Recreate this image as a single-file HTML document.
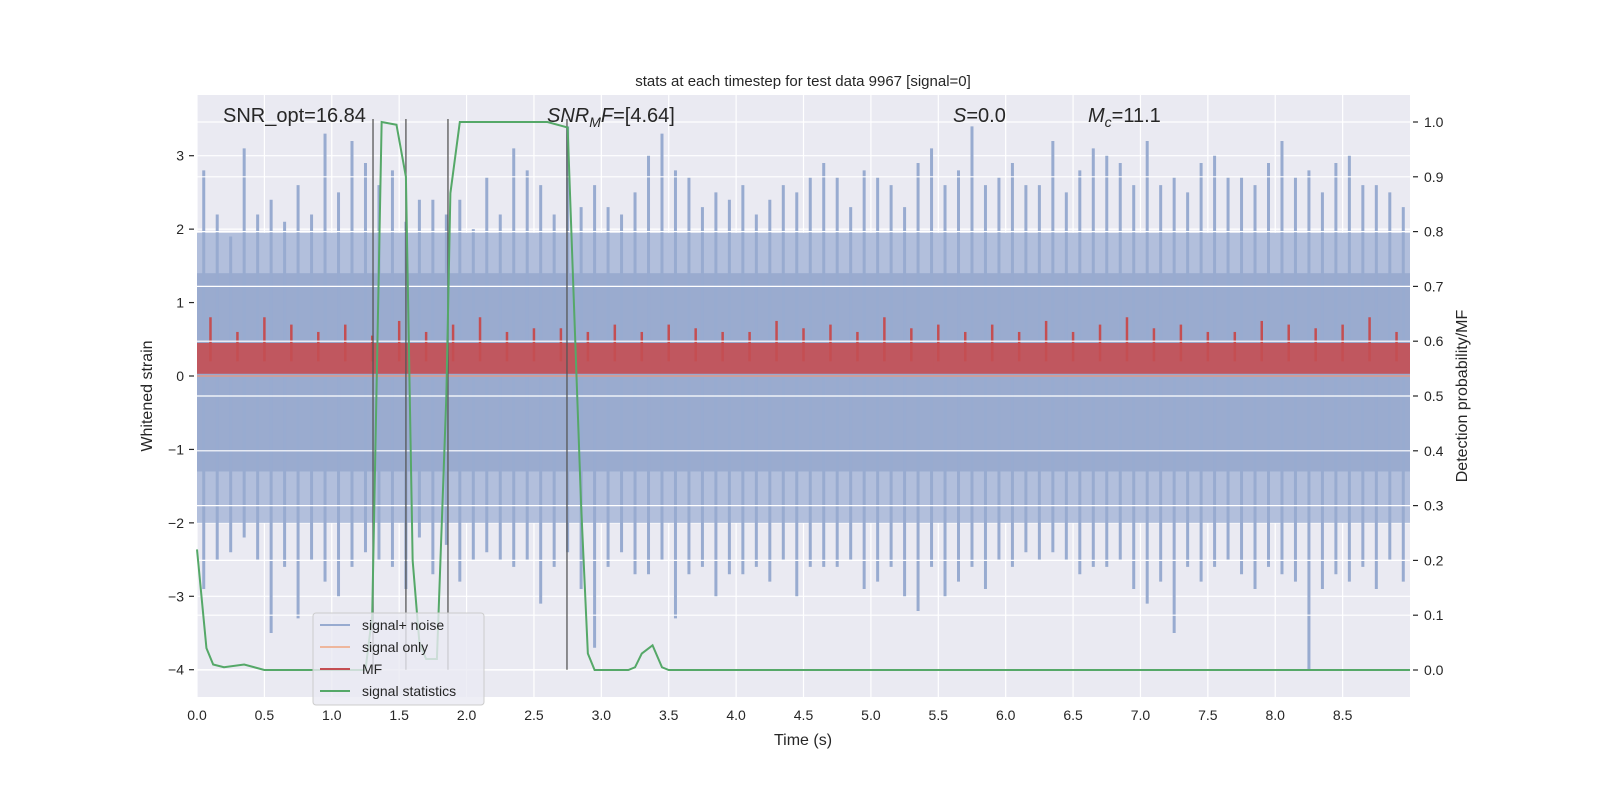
<!DOCTYPE html>
<html><head><meta charset="utf-8"><style>
body{margin:0;background:#fff;}
svg text{font-family:"Liberation Sans","DejaVu Sans",sans-serif;fill:#262626;}
</style></head><body>
<svg id="chart" width="1600" height="800" xmlns="http://www.w3.org/2000/svg">
<rect x="0" y="0" width="1600" height="800" fill="#fff"/>
<rect x="197" y="95" width="1213" height="602" fill="#eaeaf2"/>
<g id="grid"></g>
<g id="noise"></g>
<g id="mf"></g>
<g id="grid2"></g>
<g id="vlines"></g>
<g id="stat"></g>
<g id="axes"></g>
<text x="803" y="86" font-size="15" text-anchor="middle">stats at each timestep for test data 9967 [signal=0]</text>
<text x="223" y="122" font-size="20">SNR_opt=16.84</text>
<text x="547" y="122" font-size="20"><tspan font-style="italic">SNR</tspan><tspan font-style="italic" font-size="14" dy="5">M</tspan><tspan font-style="italic" dy="-5">F</tspan>=[4.64]</text>
<text x="953" y="122" font-size="20"><tspan font-style="italic">S</tspan>=0.0</text>
<text x="1088" y="122" font-size="20"><tspan font-style="italic">M</tspan><tspan font-style="italic" font-size="14" dy="5">c</tspan><tspan dy="-5">=11.1</tspan></text>
<text x="803" y="745" font-size="16" text-anchor="middle">Time (s)</text>
<text transform="translate(152,396) rotate(-90)" font-size="16" text-anchor="middle">Whitened strain</text>
<text transform="translate(1467,396) rotate(-90)" font-size="16" text-anchor="middle">Detection probability/MF</text>
<g>
<rect x="313" y="613" width="171" height="92" rx="3" fill="#eaeaf2" fill-opacity="0.8" stroke="#cccccc"/>
<line x1="320" y1="625" x2="350" y2="625" stroke="#98abd0" stroke-width="2"/>
<text x="362" y="630" font-size="14">signal+ noise</text>
<line x1="320" y1="647" x2="350" y2="647" stroke="#eeb69c" stroke-width="2"/>
<text x="362" y="652" font-size="14">signal only</text>
<line x1="320" y1="669" x2="350" y2="669" stroke="#c44e52" stroke-width="2"/>
<text x="362" y="674" font-size="14">MF</text>
<line x1="320" y1="691" x2="350" y2="691" stroke="#55a868" stroke-width="2"/>
<text x="362" y="696" font-size="14">signal statistics</text>
</g>
</svg>
<script>
const noiseHi=[2.8,2.2,1.9,3.1,2.2,2.4,2.1,2.6,2.2,3.3, 2.5,3.2,2.9,2.6,2.8,2.1,2.4,2.4,2.2,2.4, 2.0,2.7,2.2,3.1,2.8,2.6,2.2,3.4,2.3,2.6, 2.3,2.2,2.5,3.0,3.3,2.8,2.7,2.3,2.5,2.4, 2.6,2.2,2.4,2.6,2.5,2.7,2.9,2.7,2.3,2.8, 2.7,2.6,2.3,2.9,3.1,2.6,2.8,3.4,2.6,2.7, 2.9,2.6,2.6,3.2,2.5,2.8,3.1,3.0,2.9,2.6, 3.2,2.6,2.7,2.5,2.9,3.0,2.7,2.7,2.6,2.9, 3.2,2.7,2.8,2.5,2.9,3.0,2.6,2.6,2.5,2.3];
const noiseLo=[-2.9,-2.5,-2.4,-2.2,-2.5,-3.5,-2.6,-3.3,-2.5,-2.8, -3.0,-2.6,-2.4,-2.5,-2.6,-2.9,-2.2,-2.7,-2.3,-2.8, -2.5,-2.4,-2.5,-2.6,-2.5,-3.1,-2.6,-2.4,-2.9,-3.7, -2.6,-2.4,-2.7,-2.7,-2.5,-3.3,-2.7,-2.6,-3.0,-2.7, -2.7,-2.6,-2.8,-2.5,-3.0,-2.6,-2.6,-2.6,-2.5,-2.9, -2.8,-2.6,-3.0,-3.2,-2.6,-3.0,-2.8,-2.6,-2.9,-2.5, -2.6,-2.4,-2.5,-2.4,-2.5,-2.7,-2.6,-2.6,-2.5,-2.9, -3.1,-2.8,-3.5,-2.6,-2.8,-2.6,-2.5,-2.7,-2.9,-2.6, -2.7,-2.8,-4.0,-2.9,-2.7,-2.8,-2.6,-2.9,-2.5,-2.8];
const mfPeak=[0.8,0.6,0.8,0.7,0.6,0.7,0.55,0.75,0.6,0.7,0.8,0.6,0.65,0.65,0.6,0.7,0.6,0.7,0.65,0.6,0.6,0.75,0.65,0.7,0.6,0.8,0.65,0.7,0.6,0.7,0.6,0.75,0.6,0.7,0.8,0.65,0.7,0.6,0.6,0.75,0.7,0.65,0.7,0.8,0.6];
const statT=[0,0.07,0.12,0.2,0.35,0.5,1.25,1.3,1.37,1.48,1.55,1.6,1.65,1.7,1.78,1.85,1.88,1.95,2.6,2.75,2.85,2.9,2.95,3.2,3.25,3.3,3.38,3.45,3.5,9];
const statP=[0.22,0.04,0.01,0.005,0.01,0,0,0.1,1.0,0.995,0.9,0.2,0.05,0.02,0.02,0.5,0.87,1.0,1.0,0.99,0.3,0.03,0,0,0.005,0.03,0.045,0.005,0,0];
const vlineT=[1.306,1.55,1.862,2.745];
const xTicks=[0,0.5,1,1.5,2,2.5,3,3.5,4,4.5,5,5.5,6,6.5,7,7.5,8,8.5];
const yTicks=[-4,-3,-2,-1,0,1,2,3];
const y2Ticks=[0,0.1,0.2,0.3,0.4,0.5,0.6,0.7,0.8,0.9,1.0];
const NS='http://www.w3.org/2000/svg';
const X=t=>197+t*134.78, Y=v=>376-v*73.43, Y2=p=>670-p*548;
function mk(g,tag,a){const e=document.createElementNS(NS,tag);for(const k in a)e.setAttribute(k,a[k]);document.getElementById(g).appendChild(e);return e;}
xTicks.forEach(t=>{const l=mk('grid','line',{x1:X(t),x2:X(t),y1:95,y2:697,stroke:'#fff','stroke-width':1.2});


const tx=mk('axes','text',{x:X(t),y:720,'font-size':14,'text-anchor':'middle'});tx.textContent=t.toFixed(1);

});
yTicks.forEach(v=>{const l=mk('grid','line',{x1:197,x2:1410,y1:Y(v),y2:Y(v),stroke:'#fff','stroke-width':1.2});


mk('axes','line',{x1:189,x2:194,y1:Y(v),y2:Y(v),stroke:'#262626','stroke-width':1.2});
const tx=mk('axes','text',{x:184,y:Y(v)+5,'font-size':14,'text-anchor':'end'});tx.textContent=(v<0?'\u2212':'')+Math.abs(v);

});
const band=mk('noise','rect',{x:197,y:Y(1.95),width:1213,height:Y(-2.0)-Y(1.95),fill:'#b2bfdc'});


mk('noise','rect',{x:197,y:Y(1.4),width:1213,height:Y(-1.3)-Y(1.4),fill:'#9aabcf'});
noiseHi.forEach((h,i)=>{const t=i*0.1+0.05;
const l=mk('noise','line',{x1:X(t),x2:X(t),y1:Y(h),y2:Y(noiseLo[i]),stroke:'#98abd0','stroke-width':3});

});
const mb=mk('mf','rect',{x:197,y:Y(0.45),width:1213,height:Y(0.03)-Y(0.45),fill:'#c44e52','fill-opacity':0.9});


mfPeak.forEach((p,i)=>{const t=i*0.2+0.1;
const l=mk('mf','line',{x1:X(t),x2:X(t),y1:Y(p),y2:Y(0.2),stroke:'#c44e52','stroke-width':2.5});

});
mk('mf','line',{x1:197,x2:1410,y1:Y(0),y2:Y(0),stroke:'#dd9a8a','stroke-width':1.5});
y2Ticks.forEach(p=>{const l=mk('grid2','line',{x1:197,x2:1410,y1:Y2(p),y2:Y2(p),stroke:'#fff','stroke-width':1.2});


mk('axes','line',{x1:1413,x2:1418,y1:Y2(p),y2:Y2(p),stroke:'#262626','stroke-width':1.2});
const tx=mk('axes','text',{x:1424,y:Y2(p)+5,'font-size':14});tx.textContent=p.toFixed(1);

});
vlineT.forEach(t=>{const l=mk('vlines','line',{x1:X(t),x2:X(t),y1:Y(3.5),y2:Y(-4),stroke:'#555','stroke-width':1.5,'stroke-opacity':0.85});

});
const pl=mk('stat','polyline',{points:statT.map((t,i)=>X(t)+','+Y2(statP[i])).join(' '),fill:'none',stroke:'#55a868','stroke-width':2});


</script>
</body></html>
